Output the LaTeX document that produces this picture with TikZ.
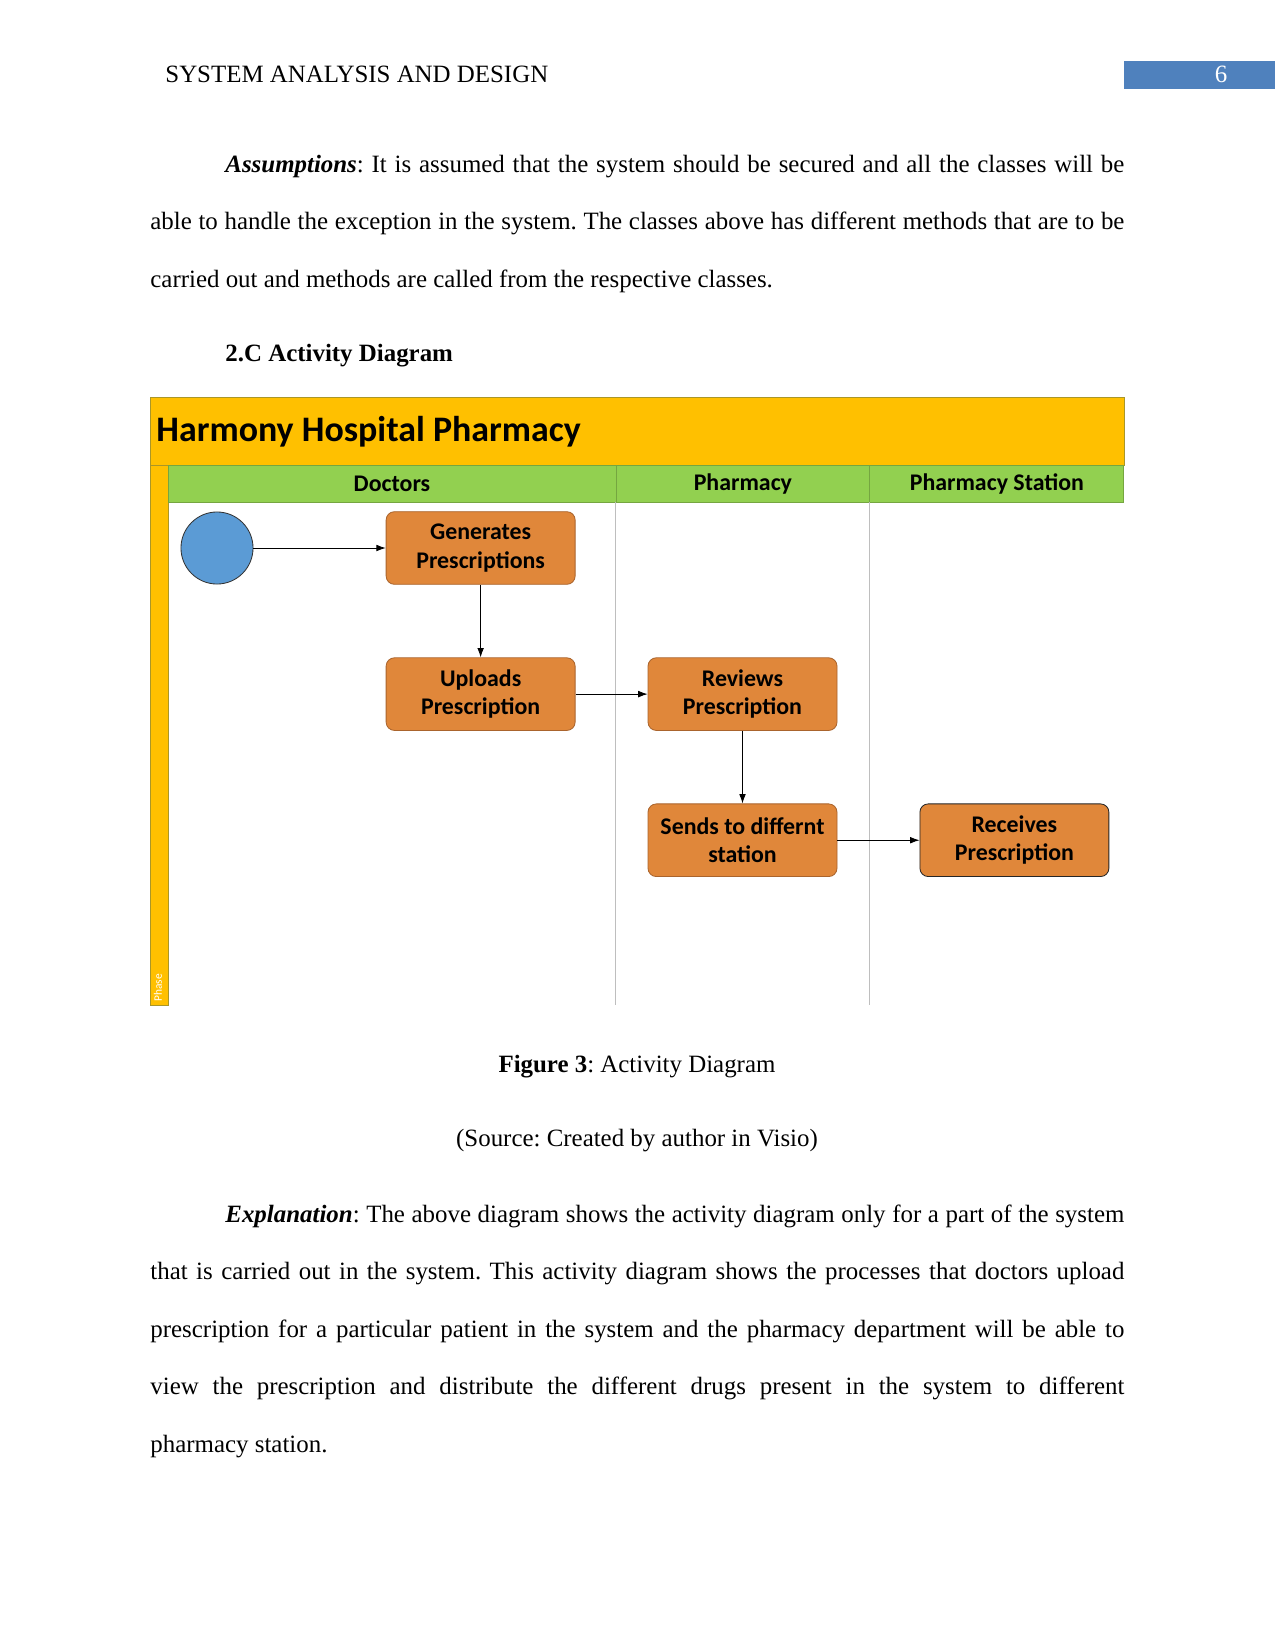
\documentclass[tikz,border=0pt]{standalone}
\usepackage{fontspec}
\setmainfont{Liberation Serif}
\newfontfamily\calib{Carlito}
\usepackage{xcolor}
\usepackage{tikz}
\usetikzlibrary{shapes,arrows.meta,positioning,calc}
\definecolor{hdrblue}{RGB}{79,129,189}
\definecolor{titleyellow}{RGB}{255,192,0}
\definecolor{titleedge}{RGB}{170,150,40}
\definecolor{lanegreen}{RGB}{146,208,80}
\definecolor{actorange}{RGB}{224,135,58}
\definecolor{actborder}{RGB}{170,100,45}
\definecolor{startblue}{RGB}{91,155,213}
\definecolor{lanegray}{RGB}{190,190,190}
\frenchspacing

\begin{document}
\begin{tikzpicture}[
    x=0.48bp, y=-0.48bp,
    txt/.style={inner sep=0pt, anchor=base west, font=\fontsize{12}{14}\selectfont},
    lanehead/.style={rectangle, draw=lanegreen!80!black, fill=lanegreen, minimum height=17.8bp, inner sep=0pt, outer sep=0pt, font=\calib\bfseries\fontsize{11.5}{13}\selectfont},
    act/.style={rectangle, rounded corners=4pt, draw=actborder, fill=actorange, minimum width=3.2cm, minimum height=1.23cm, align=center, inner sep=2pt, font=\calib\bfseries\fontsize{11.5}{13.7}\selectfont},
    start/.style={circle, draw=black!80, fill=startblue, minimum size=1.22cm, inner sep=0pt},
    laneline/.style={draw=lanegray, line width=0.5pt},
    arrow/.style={-{Latex[length=4.5bp, width=3.2bp]}, thin}
]

\fill[white] (0,0) rectangle (1275,1651);
\useasboundingbox (0,0) rectangle (1275,1651);

% running head
\node[txt] (runhead) at (165,82) {SYSTEM ANALYSIS AND DESIGN};
\node[rectangle, fill=hdrblue, anchor=north west, minimum width=72.5bp, minimum height=13.4bp, inner sep=0pt] (pgbox) at (1124,61) {};
\node[txt, anchor=base, text=white] (pgnum) at (1221,82) {6};

% assumptions
\node[txt] (asa) at (225,172) {\makebox[431.5bp][s]{\textbf{\textit{Assumptions}}: It is assumed that the system should be secured and all the classes will be}};
\node[txt] (asb) at (150,229.5) {\makebox[467.5bp][s]{able to handle the exception in the system. The classes above has different methods that are to be}};
\node[txt] (asc) at (150,287) {carried out and methods are called from the respective classes.};

\node[txt] (sec) at (225,361) {\textbf{2.C Activity Diagram}};

% diagram frame
\node[rectangle, draw=titleedge, fill=titleyellow, anchor=north west, minimum width=467.5bp, minimum height=32.6bp, inner sep=0pt, outer sep=0pt] (titlebar) at (150,397) {};
\node[anchor=west, inner sep=0pt, font=\calib\bfseries\fontsize{17.3}{20}\selectfont] (title) at (156,432) {Harmony Hospital Pharmacy};
\node[rectangle, fill=titleyellow, draw=titleedge, anchor=north west, minimum width=8.6bp, minimum height=259.2bp, inner sep=0pt, outer sep=0pt] (phase) at (150,465) {};
\node[rotate=90, anchor=west, inner sep=0pt, text=white, font=\calib\fontsize{5.5}{6}\selectfont] (phaselbl) at ([xshift=-0.5bp, yshift=1.5bp]phase.south) {Phase};

% lanes
\node[lanehead, anchor=north west, minimum width=215bp] (doc) at (168,465) {Doctors};
\node[lanehead, right=0pt of doc, minimum width=121.9bp] (pha) {Pharmacy};
\node[lanehead, right=0pt of pha, minimum width=121.9bp] (sta) {Pharmacy Station};
\coordinate (bot) at (150,1005);
\draw[laneline] (pha.south west) -- (pha.south west |- bot);
\draw[laneline] (sta.south west) -- (sta.south west |- bot);

% activities
\node[start] (init) at (217,548) {};
\node[act, right=2.24cm of init] (gen) {Generates\\Prescriptions};
\node[act, below=1.23cm of gen] (upl) {Uploads\\Prescription};
\node[act, right=1.22cm of upl] (rev) {Reviews\\Prescription};
\node[act, below=1.23cm of rev] (snd) {Sends to differnt\\station};
\node[act, draw=black!85, right=1.39cm of snd] (rcv) {Receives\\Prescription};

\draw[arrow] (init) -- (gen);
\draw[arrow] (gen) -- (upl);
\draw[arrow] (upl) -- (rev);
\draw[arrow] (rev) -- (snd);
\draw[arrow] (snd) -- (rcv);

% captions
\node[txt, anchor=base] (figcap) at (637,1072) {\textbf{Figure 3}: Activity Diagram};
\node[txt, anchor=base] (figsrc) at (637,1146) {(Source: Created by author in Visio)};

% explanation
\node[txt] (exa) at (225,1222) {\makebox[431.5bp][s]{\textbf{\textit{Explanation}}: The above diagram shows the activity diagram only for a part of the system}};
\node[txt] (exb) at (150,1279.5) {\makebox[467.5bp][s]{that is carried out in the system. This activity diagram shows the processes that doctors upload}};
\node[txt] (exc) at (150,1337) {\makebox[467.5bp][s]{prescription for a particular patient in the system and the pharmacy department will be able to}};
\node[txt] (exd) at (150,1394.5) {\makebox[467.5bp][s]{view the prescription and distribute the different drugs present in the system to different}};
\node[txt] (exe) at (150,1452) {pharmacy station.};

\end{tikzpicture}
\end{document}
